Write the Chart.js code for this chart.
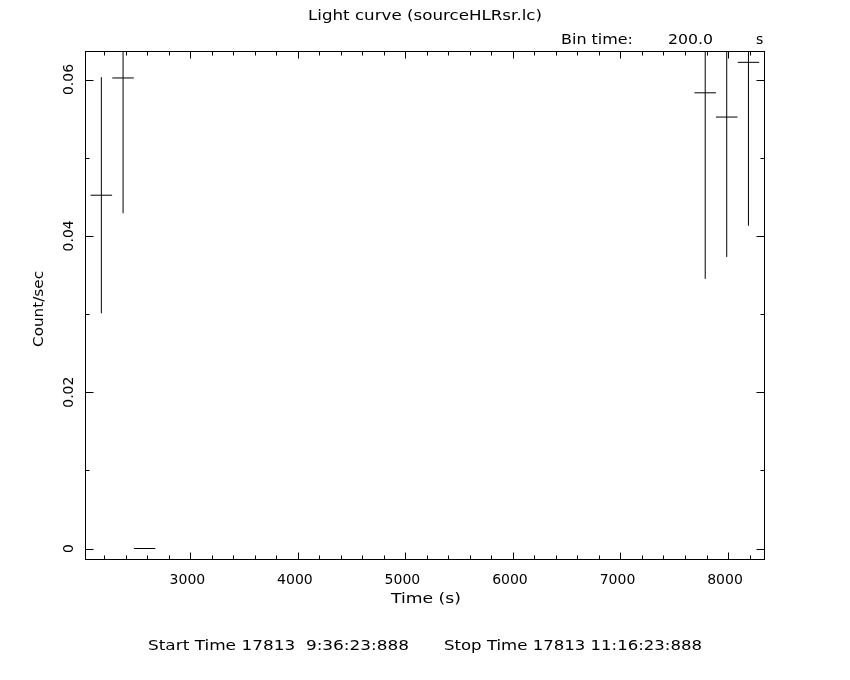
<!DOCTYPE html>
<html>
<head>
<meta charset="utf-8">
<script src="https://cdn.jsdelivr.net/npm/chart.js@4"></script>
<style>
  html, body { margin: 0; padding: 0; background: #fff; }
</style>
</head>
<body>
<canvas id="lc" width="850" height="680"></canvas>
<script>
// light curve bins (s), rates and 1-sigma errors (count/sec)
const binTime = [2172, 2374, 2574, 7788, 7988, 8190];
const rate    = [0.0452, 0.0602, 0.0, 0.0583, 0.0552, 0.0622];
const rateErr = [0.0151, 0.0173, 0.0, 0.0238, 0.0179, 0.0209];
const halfBin = 100;

const xTickVals   = [3000, 4000, 5000, 6000, 7000, 8000];
const yTickVals   = [0, 0.02, 0.04, 0.06];
const yTickLabels = ['0', '0.02', '0.04', '0.06'];

const FONT = '"DejaVu Sans", sans-serif';

// error crosses as one line dataset, split by null gaps
const segs = [];
binTime.forEach((t, i) => {
  segs.push({x: t - halfBin, y: rate[i]}, {x: t + halfBin, y: rate[i]}, {x: t, y: null});
  if (rateErr[i] > 0) {
    segs.push({x: t, y: rate[i] - rateErr[i]}, {x: t, y: rate[i] + rateErr[i]}, {x: t, y: null});
  }
});

// stretch a string so it fills x0..x1 (pgplot font is wider than ours)
function fitText(ctx, s, x0, x1, base) {
  const w = ctx.measureText(s).width;
  ctx.save();
  ctx.translate(x0, base);
  ctx.scale((x1 - x0) / w, 1);
  ctx.textAlign = 'left';
  ctx.textBaseline = 'alphabetic';
  ctx.fillText(s, 0, 0);
  ctx.restore();
}

const framePlugin = {
  id: 'frame',
  afterDraw(chart) {
    const { ctx, chartArea: a, scales: { x, y } } = chart;
    const L = Math.round(a.left) + 0.5, R = Math.round(a.right) - 0.5;
    const T = Math.round(a.top) + 0.5, B = Math.round(a.bottom) - 0.5;
    ctx.save();
    ctx.strokeStyle = '#000';
    ctx.lineWidth = 1;
    ctx.strokeRect(L, T, R - L, B - T);

    ctx.beginPath();
    // x ticks: major every 1000, minor every 200, pointing inward
    for (let v = 2200; v <= 8200; v += 200) {
      const px = Math.round(x.getPixelForValue(v)) + 0.5;
      const len = v % 1000 === 0 ? 7 : 4;
      ctx.moveTo(px, B); ctx.lineTo(px, B - len);
      ctx.moveTo(px, T); ctx.lineTo(px, T + len);
    }
    // y ticks: major every 0.02, minor every 0.01
    for (let k = 0; k <= 6; k++) {
      const py = Math.round(y.getPixelForValue(k * 0.01)) + 0.5;
      const len = k % 2 === 0 ? 8 : 4;
      ctx.moveTo(L, py); ctx.lineTo(L + len, py);
      ctx.moveTo(R, py); ctx.lineTo(R - len, py);
    }
    ctx.stroke();

    ctx.fillStyle = '#000';
    ctx.font = '14px ' + FONT;

    // x tick labels
    ctx.textAlign = 'center';
    ctx.textBaseline = 'alphabetic';
    xTickVals.forEach(v => {
      ctx.fillText(String(v), x.getPixelForValue(v) - 3, 583.5);
    });

    // rotated y tick labels
    yTickVals.forEach((v, i) => {
      const py = y.getPixelForValue(v);
      ctx.save();
      ctx.translate(73, py);
      ctx.rotate(-Math.PI / 2);
      ctx.textAlign = 'center';
      ctx.textBaseline = 'alphabetic';
      ctx.fillText(yTickLabels[i], 0, 0);
      ctx.restore();
    });

    // y axis title
    ctx.save();
    ctx.translate(43, 347);
    ctx.rotate(-Math.PI / 2);
    fitText(ctx, 'Count/sec', 0, 76, 0);
    ctx.restore();

    // x axis title
    fitText(ctx, 'Time (s)', 391, 461, 603);

    // header
    fitText(ctx, 'Light curve (sourceHLRsr.lc)', 308, 542, 19.5);
    fitText(ctx, 'Bin time:', 561, 633, 43.5);
    fitText(ctx, '200.0', 668, 713, 43.5);
    ctx.textAlign = 'left';
    ctx.fillText('s', 756, 43.5);

    // footer
    fitText(ctx, 'Start Time 17813  9:36:23:888', 148, 409, 650);
    fitText(ctx, 'Stop Time 17813 11:16:23:888', 444, 702, 650);
    ctx.restore();
  }
};

new Chart(document.getElementById('lc'), {
  type: 'line',
  data: {
    datasets: [{
      data: segs,
      borderColor: '#000',
      borderWidth: 1,
      pointRadius: 0,
      tension: 0,
      spanGaps: false,
      fill: false
    }]
  },
  options: {
    responsive: false,
    animation: false,
    layout: { padding: { top: 51, right: 85, bottom: 0, left: 0 } },
    plugins: { legend: { display: false }, tooltip: { enabled: false }, title: { display: false } },
    scales: {
      x: {
        type: 'linear',
        min: 2020,
        max: 8344,
        grid: { display: false, drawTicks: false },
        border: { display: false },
        afterFit: s => { s.height = 120; },
        ticks: { display: false, stepSize: 1000 }
      },
      y: {
        type: 'linear',
        min: -0.00147,
        max: 0.06365,
        grid: { display: false, drawTicks: false },
        border: { display: false },
        afterFit: s => { s.width = 85; },
        ticks: { display: false, stepSize: 0.01 }
      }
    }
  },
  plugins: [framePlugin]
});
</script>
</body>
</html>
